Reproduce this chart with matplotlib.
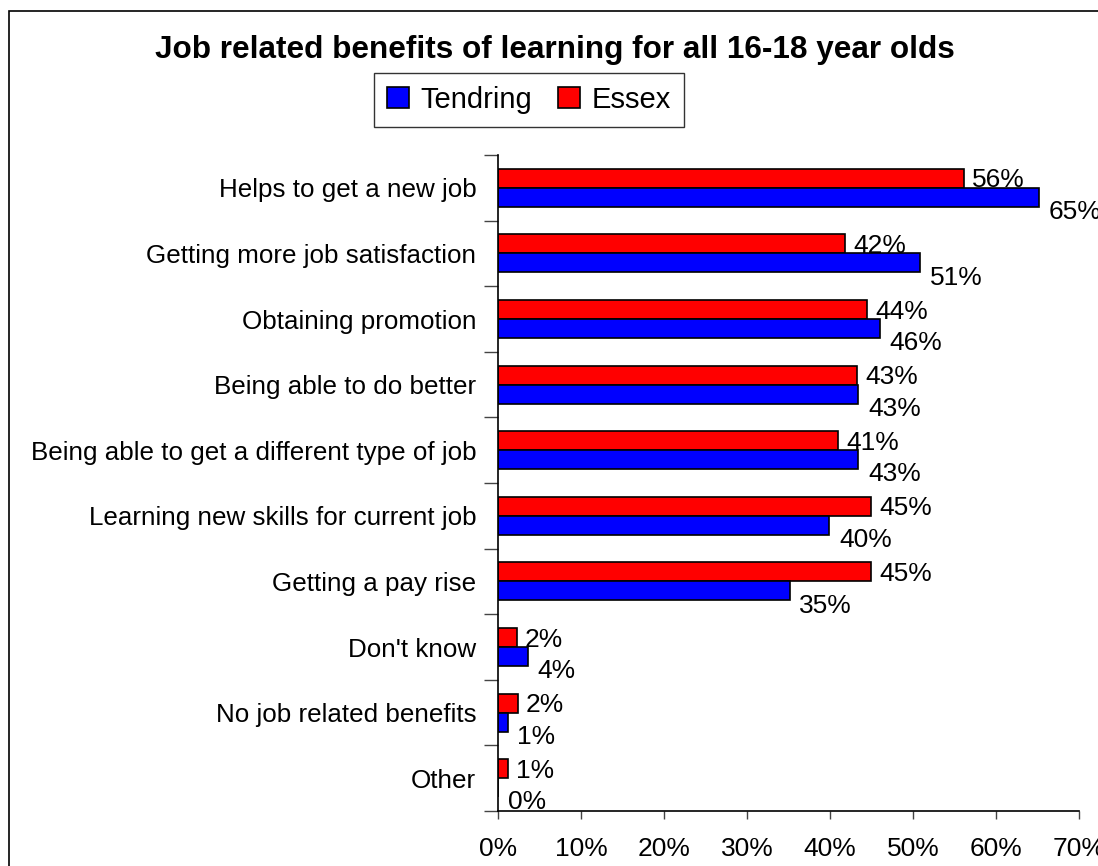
import matplotlib
matplotlib.use("Agg")
import matplotlib.pyplot as plt
from matplotlib.patches import Rectangle
import numpy as np

plt.rcParams['font.family'] = ['Liberation Sans', 'DejaVu Sans']

# data (percent)
categories = [
    "Helps to get a new job",
    "Getting more job satisfaction",
    "Obtaining promotion",
    "Being able to do better",
    "Being able to get a different type of job",
    "Learning new skills for current job",
    "Getting a pay rise",
    "Don't know",
    "No job related benefits",
    "Other",
]
tendring = [65.2, 50.8, 46.0, 43.4, 43.4, 39.9, 35.1, 3.5, 1.1, 0.0]
essex = [56.1, 41.8, 44.4, 43.2, 40.9, 44.9, 44.9, 2.2, 2.3, 1.1]
xticks = [0, 10, 20, 30, 40, 50, 60, 70]

fig = plt.figure(figsize=(10.98, 8.66), dpi=100)
ax = fig.add_axes([0.454, 0.0635, 0.5287, 0.7575])

y = np.arange(len(categories))
h = 0.29
ax.barh(y - h / 2, essex, height=h, color='#ff0000', edgecolor='black',
        linewidth=1.2, label='Essex')
ax.barh(y + h / 2, tendring, height=h, color='#0000ff', edgecolor='black',
        linewidth=1.2, label='Tendring')

# value labels
for i in range(len(categories)):
    ax.annotate(f"{essex[i]:.0f}%", xy=(essex[i], y[i] - h / 2),
                xytext=(6, -1.5), textcoords='offset points',
                ha='left', va='center', fontsize=19)
    ax.annotate(f"{tendring[i]:.0f}%", xy=(tendring[i], y[i] + h / 2),
                xytext=(7, -10.5), textcoords='offset points',
                ha='left', va='center', fontsize=19)

ax.set_xlim(0, 70)
ax.set_ylim(len(categories) - 0.5, -0.5)
ax.set_xticks(xticks)
ax.set_xticklabels([f"{v}%" for v in xticks], fontsize=19)
ax.tick_params(axis='x', length=6, width=1, pad=13, color='#444444')

ax.set_yticks(y)
ax.set_yticklabels(categories, fontsize=18.7)
ax.tick_params(axis='y', which='major', length=0, pad=16)
ax.set_yticks(np.arange(len(categories) + 1) - 0.5, minor=True)
ax.tick_params(axis='y', which='minor', length=10, width=1, color='#444444')

for side in ['top', 'right']:
    ax.spines[side].set_visible(False)
for side in ['left', 'bottom']:
    ax.spines[side].set_linewidth(1.2)

fig.text(0.505, 0.933, "Job related benefits of learning for all 16-18 year olds",
         ha='center', va='baseline', fontsize=22.7, fontweight='bold')

handles, labels = ax.get_legend_handles_labels()
fig.legend(handles[::-1], labels[::-1], loc='center',
           bbox_to_anchor=(0.4818, 0.8848), ncol=2, fontsize=21,
           frameon=True, fancybox=False, edgecolor='black',
           handlelength=0.75, handleheight=0.75, handletextpad=0.4,
           columnspacing=0.9, borderpad=0.45, borderaxespad=0)

# chart area border (runs off the right and bottom edges)
fig.patches.append(Rectangle((9 / 1098, -0.05), 1.1, 1 - 11 / 866 + 0.05,
                             transform=fig.transFigure, fill=False,
                             edgecolor='black', linewidth=1.2))

fig.savefig("out.png", dpi=100)
